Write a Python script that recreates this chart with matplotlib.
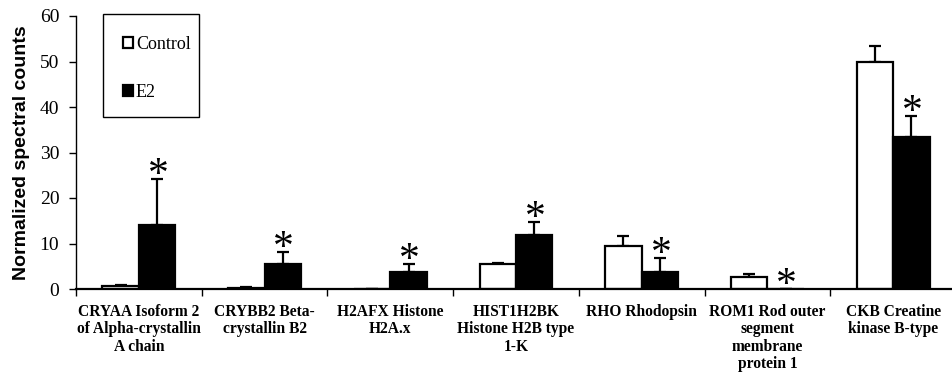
import matplotlib.pyplot as plt
from matplotlib.patches import Rectangle
import numpy as np

categories = [
    "CRYAA Isoform 2\nof Alpha-crystallin\nA chain",
    "CRYBB2 Beta-\ncrystallin B2",
    "H2AFX Histone\nH2A.x",
    "HIST1H2BK\nHistone H2B type\n1-K",
    "RHO Rhodopsin",
    "ROM1 Rod outer\nsegment\nmembrane\nprotein 1",
    "CKB Creatine\nkinase B-type",
]
control = [0.6, 0.3, 0.0, 5.5, 9.4, 2.7, 50.0]
control_err = [0.3, 0.2, 0.0, 0.2, 2.3, 0.7, 3.5]
e2 = [14.1, 5.6, 3.8, 11.9, 3.8, 0.0, 33.4]
e2_err = [10.0, 2.5, 1.6, 2.9, 3.1, 0.0, 4.6]

serif = "Liberation Serif"
plt.rcParams["mathtext.fontset"] = "custom"
plt.rcParams["mathtext.rm"] = serif
plt.rcParams["mathtext.it"] = serif + ":italic"

fig = plt.figure(figsize=(9.52, 3.74), dpi=100)
ax = fig.add_axes([76 / 952, 85 / 374, 880 / 952, 273 / 374])

x = np.arange(len(categories)) + 0.5
w = 0.29
ax.bar(x - w / 2, control, w, color="white", edgecolor="black", lw=1.6,
       label="Control", zorder=2)
ax.bar(x + w / 2, e2, w, color="black", edgecolor="black", lw=1.6,
       label="E2", zorder=2)
ax.errorbar(x - w / 2, control, yerr=[np.zeros(7), control_err], fmt="none",
            ecolor="black", elinewidth=1.6, capsize=4, capthick=1.6, zorder=1)
ax.errorbar(x + w / 2, e2, yerr=[np.zeros(7), e2_err], fmt="none",
            ecolor="black", elinewidth=1.6, capsize=4, capthick=1.6, zorder=1)

# significance stars above E2 (mathtext so the box hugs the glyph)
for xi, v, e in zip(x, e2, e2_err):
    ax.annotate(r"$*$", (xi + w / 2, v + e), xytext=(0, 5), textcoords="offset points",
                ha="center", va="center", fontsize=30, zorder=3)

ax.set_xlim(0, 7)
ax.set_ylim(0, 60)
ax.set_yticks(range(0, 61, 10))
ax.set_xticks(x)
ax.set_xticklabels(categories, family=serif, fontweight="bold", fontsize=11.2,
                   linespacing=1.1, va="top")
ax.set_xticks(np.arange(0, 8), minor=True)
ax.tick_params(axis="x", which="major", length=0, pad=11)
ax.tick_params(axis="x", which="minor", length=5, width=1, direction="out")
ax.tick_params(axis="y", length=5, width=1, labelsize=14, pad=7)
for t in ax.get_yticklabels():
    t.set_family(serif)
for s in ("top", "right"):
    ax.spines[s].set_visible(False)
ax.spines["left"].set_linewidth(1)
ax.spines["bottom"].set_linewidth(1.6)
ax.set_ylabel("Normalized spectral counts", family="Liberation Sans",
              fontweight="bold", fontsize=14, labelpad=7)

# legend box drawn separately so its size matches the original
fig.add_artist(Rectangle((103 / 952, 1 - 117 / 374), 96 / 952, 103 / 374,
                         transform=fig.transFigure, fill=False, ec="black", lw=1))
ax.legend(loc="upper left", bbox_to_anchor=(116 / 952, 1 - 29 / 374),
          bbox_transform=fig.transFigure, borderaxespad=0, frameon=False,
          prop={"family": serif, "size": 13}, handlelength=0.55,
          handleheight=0.55, handletextpad=0.15, labelspacing=1.7)

fig.savefig("out.png", dpi=100)
